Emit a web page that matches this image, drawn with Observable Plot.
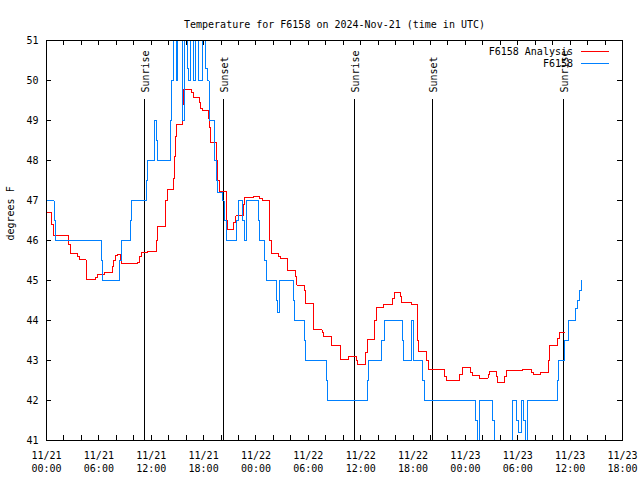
<!DOCTYPE html>
<html><head><meta charset="utf-8">
<script src="https://cdn.jsdelivr.net/npm/d3@7"></script>
<script src="https://cdn.jsdelivr.net/npm/@observablehq/plot@0.6"></script>
<style>body{margin:0;background:#fff} svg{display:block}</style>
</head><body><div id="chart"></div>
<script>
const title = "Temperature for F6158 on 2024-Nov-21 (time in UTC)";
const yLabel = "degrees F";
const startTime = "2024-11-21T00:00Z";
const endTime = "2024-11-23T18:00Z";
const seriesNames = ["F6158 Analysis", "F6158"];
const seriesColors = ["#ff0000", "#0080ff"];

// hours since 2024-11-21 00:00 UTC
const analysisHours = [0, 0.57, 0.84, 2.56, 2.75, 3.59, 3.82, 4.53, 4.64, 5.61, 5.81, 6.68, 7.60, 7.73, 7.91, 8.10, 8.48, 8.59,
  10.46, 10.71, 10.85, 11.54, 12.55, 12.72, 13.58, 13.69, 13.83, 14.50, 14.70, 14.78, 14.90, 15.64, 15.73, 16.62, 16.88,
  17.53, 17.65, 17.84, 18.51, 18.68, 18.79, 19.48, 19.65, 19.82, 20.63, 20.78, 21.48, 21.71, 22.54, 22.72, 23.72, 24.46,
  24.70, 25.50, 25.73, 26.58, 26.81, 27.67, 28.53, 28.70, 29.56, 29.68, 30.60, 31.57, 31.78, 32.66, 33.69, 34.66, 35.52,
  35.67, 36.55, 36.73, 37.58, 37.78, 38.58, 39.59, 39.88, 40.51, 40.68, 41.82, 42.48, 42.66, 43.54, 43.74, 45.55, 45.78,
  47.38, 47.63, 48.58, 48.78, 49.62, 50.59, 50.76, 51.56, 51.73, 52.48, 52.67, 54.54, 55.63, 55.75, 56.61, 57.52, 57.67,
  58.55, 58.78, 59.41];
const analysisTemps = [46.7, 46.4, 46.12, 45.9, 45.67, 45.6, 45.52, 45.3, 45.02, 45.08, 45.14, 45.2, 45.35, 45.5, 45.62, 45.65, 45.5, 45.42,
  45.45, 45.6, 45.69, 45.72, 46.0, 46.35, 46.6, 47.0, 47.27, 47.54, 48.1, 48.6, 48.9, 49.4, 49.77, 49.7, 49.58,
  49.45, 49.3, 49.25, 49.06, 48.83, 48.44, 48.0, 47.5, 47.22, 46.5, 46.27, 46.45, 46.62, 46.9, 47.08, 47.1, 47.05,
  47.0, 46.0, 45.67, 45.6, 45.54, 45.25, 45.1, 44.88, 44.75, 44.42, 43.77, 43.7, 43.6, 43.38, 43.02, 43.1, 43.0,
  42.9, 43.2, 43.52, 44.0, 44.33, 44.4, 44.55, 44.71, 44.6, 44.45, 44.4, 43.5, 43.22, 43.0, 42.78, 42.6, 42.5,
  42.65, 42.83, 42.7, 42.62, 42.56, 42.65, 42.72, 42.6, 42.44, 42.6, 42.75, 42.78, 42.7, 42.65, 42.7, 43.0, 43.38,
  43.55, 43.7, 43.7];

const obsHours = [0, 0.86, 1.03, 6.30, 6.47, 8.31, 8.54, 9.57, 9.74, 11.46, 11.63, 12.32, 12.43, 12.60, 12.72, 14.21, 14.32,
  14.50, 14.90, 15.01, 15.53, 15.64, 15.81, 16.10, 16.27, 16.50, 16.79, 17.07, 17.47, 17.82, 18.22, 18.45, 18.62, 19.25,
  19.48, 19.65, 20.17, 20.34, 20.57, 21.77, 22.00, 22.46, 22.69, 22.92, 24.24, 24.41, 24.98, 25.21, 26.36, 26.47, 26.70,
  28.25, 28.42, 29.51, 29.68, 32.03, 32.23, 36.75, 36.93, 38.39, 38.73, 40.76, 40.94, 41.82, 42.09, 43.05, 43.31, 49.16,
  49.33, 49.58, 51.14, 51.39, 53.43, 53.86, 54.09, 54.37, 54.66, 54.89, 55.15, 58.52, 58.70, 59.41, 59.76, 60.62, 60.85,
  61.02, 61.25];
const obsTemps = [47, 46.5, 46, 45.5, 45, 45.5, 46, 46.5, 47, 47.5, 48, 48.5, 49, 48.5, 48, 49, 50,
  52, 50, 52, 50, 49, 52, 50.3, 50, 52, 50, 52, 50, 52, 50.3, 50, 49, 48,
  47.5, 47.2, 47, 46.5, 46, 46.5, 47, 46.5, 46, 47, 46.5, 46, 45.5, 45, 44.5, 44.2, 45,
  44.5, 44, 43.5, 43, 42.5, 42, 42.5, 43, 43.5, 44, 43.5, 43, 44, 43, 42.5, 42, 41.5,
  40.5, 42, 41.5, 40.5, 42, 41.5, 41.2, 42, 41.5, 40.5, 42, 42.5, 43, 43.5, 44, 44.3, 44.5,
  44.75, 45];

const eventNames = ["Sunrise", "Sunset", "Sunrise", "Sunset", "Sunrise"];
const eventTimes = ["2024-11-21T11:16Z", "2024-11-21T20:17Z", "2024-11-22T11:19Z", "2024-11-22T20:16Z", "2024-11-23T11:16Z"];
const yTicks = [41, 42, 43, 44, 45, 46, 47, 48, 49, 50, 51];

const t0 = new Date(startTime), t1 = new Date(endTime);
const toDate = h => new Date(+t0 + h * 3600e3);
const analysis = analysisHours.map((h, i) => ({t: toDate(h), v: analysisTemps[i]}));
const obs = obsHours.map((h, i) => ({t: toDate(h), v: obsTemps[i]}));
const events = eventNames.map((n, i) => ({name: n, t: new Date(eventTimes[i])}));
const labelTicks = d3.utcHour.every(6).range(t0, new Date(+t1 + 1));
const minorTicks = d3.utcHour.every(2).range(t0, new Date(+t1 + 1));
const fmtD = d3.utcFormat("%m/%d"), fmtT = d3.utcFormat("%H:%M");

const W = 640, H = 480, ML = 46, MR = 18, MT = 40, MB = 40;
const FONT = "DejaVu Sans Mono";

function legend(index, scales, values, dims) {
  const g = d3.create("svg:g").attr("font-family", FONT).attr("font-size", 10);
  const right = dims.width - dims.marginRight;
  seriesNames.forEach((name, i) => {
    const y = dims.marginTop + 11 + i * 12;
    g.append("text").attr("x", right - 49).attr("y", y).attr("dy", "0.35em")
      .attr("text-anchor", "end").attr("fill", "black").text(name);
    g.append("line").attr("x1", right - 41).attr("x2", right - 13)
      .attr("y1", y + 0.5).attr("y2", y + 0.5).attr("stroke", seriesColors[i])
      .attr("stroke-width", 1).attr("shape-rendering", "crispEdges");
  });
  return g.node();
}

const crisp = {shapeRendering: "crispEdges"};
const chart = Plot.plot({
  width: W, height: H,
  marginLeft: ML, marginRight: MR, marginTop: MT, marginBottom: MB,
  style: {fontFamily: FONT, fontSize: "10px", background: "white", color: "black"},
  x: {type: "utc", domain: [t0, t1], axis: null},
  y: {domain: [41, 51], axis: null},
  marks: [
    // ticks (inward, mirrored)
    Plot.ruleX(minorTicks, {x: d => d, insetTop: H - MT - MB - 5, stroke: "black", ...crisp}),
    Plot.ruleX(minorTicks, {x: d => d, insetBottom: H - MT - MB - 5, stroke: "black", ...crisp}),
    Plot.ruleY(yTicks, {y: d => d, insetRight: W - ML - MR - 5, stroke: "black", ...crisp}),
    Plot.ruleY(yTicks, {y: d => d, insetLeft: W - ML - MR - 5, stroke: "black", ...crisp}),
    // tick labels
    Plot.text(labelTicks, {x: d => d, text: d => fmtD(d) + "\n" + fmtT(d), frameAnchor: "bottom",
      lineAnchor: "top", dy: 9, lineHeight: 1.3, fill: "black"}),
    Plot.text(yTicks, {y: d => d, text: d => String(d), frameAnchor: "left", textAnchor: "end", dx: -8, fill: "black"}),
    // title & axis label
    Plot.text([title], {frameAnchor: "top", dy: -20, fill: "black"}),
    Plot.text([yLabel], {frameAnchor: "left", rotate: -90, dx: -36, fill: "black"}),
    // sunrise / sunset
    Plot.ruleX(events, {x: "t", y1: 41, y2: 49.53, stroke: "black", ...crisp}),
    Plot.text(events, {x: "t", y: 49.7, text: "name", rotate: -90, textAnchor: "start", dx: 1, fill: "black"}),
    // series
    Plot.line(analysis, {x: "t", y: "v", curve: "step-after", stroke: seriesColors[0], strokeWidth: 1, clip: true, ...crisp}),
    Plot.line(obs, {x: "t", y: "v", curve: "step-after", stroke: seriesColors[1], strokeWidth: 1, clip: true, ...crisp}),
    Plot.frame({stroke: "black", ...crisp}),
    legend
  ]
});
document.getElementById("chart").append(chart);
</script>
</body></html>
